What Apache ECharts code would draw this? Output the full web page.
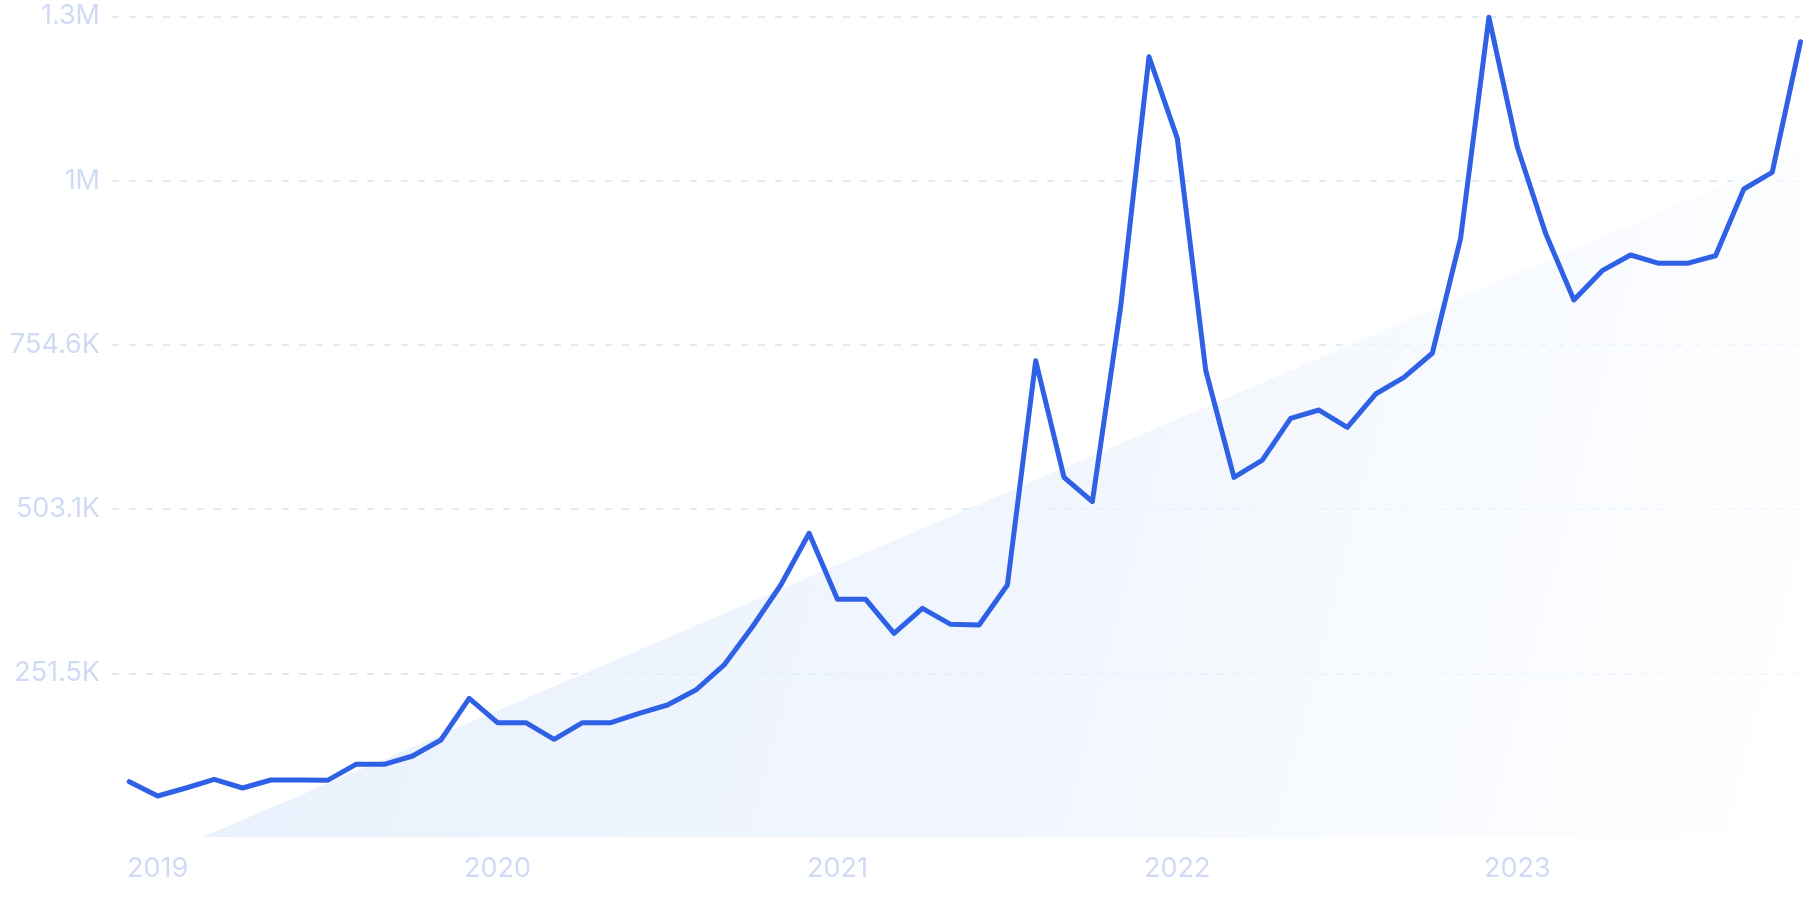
<!DOCTYPE html>
<html>
<head>
<meta charset="utf-8">
<script src="https://cdn.jsdelivr.net/npm/echarts@6/dist/echarts.min.js"></script>
<style>
html,body{margin:0;padding:0;background:#fff;}
#chart{width:1807px;height:903px;}
</style>
</head>
<body>
<div id="chart"></div>
<script>
// Monthly categories (Dec 2018 – Nov 2023)
const months = [
  '2018-12',
  '2019-01','2019-02','2019-03','2019-04','2019-05','2019-06','2019-07','2019-08','2019-09','2019-10','2019-11','2019-12',
  '2020-01','2020-02','2020-03','2020-04','2020-05','2020-06','2020-07','2020-08','2020-09','2020-10','2020-11','2020-12',
  '2021-01','2021-02','2021-03','2021-04','2021-05','2021-06','2021-07','2021-08','2021-09','2021-10','2021-11','2021-12',
  '2022-01','2022-02','2022-03','2022-04','2022-05','2022-06','2022-07','2022-08','2022-09','2022-10','2022-11','2022-12',
  '2023-01','2023-02','2023-03','2023-04','2023-05','2023-06','2023-07','2023-08','2023-09','2023-10','2023-11'
];
// Search volume, one value per month
const volume = [
  85500,
  63600, 75800, 89100, 75800, 88100, 88100, 87600, 112100, 112100, 124800, 149300, 213200,
  175800, 175800, 150400, 175800, 175800, 190200, 202900, 225900, 264200, 322800, 386700, 465900,
  364800, 364800, 312700, 351000, 326500, 325400, 386700, 730200, 551600, 514300, 812900, 1195800,
  1070800, 716000, 551600, 578100, 642000, 654700, 628200, 679200, 704800, 741600, 917700, 1256100,
  1058000, 925300, 823200, 868100, 892100, 879400, 879400, 891000, 993200, 1018700, 1218800
];
// Trend line end points: [month index, value]
const trendStart = [0, -47560];
const trendEnd = [59, 1050300];
// Axis ticks
const yInterval = 251540;
const yMax = 1257700;
const yTickLabels = ['', '251.5K', '503.1K', '754.6K', '1M', '1.3M'];
const yearTickIdx = [1, 13, 25, 37, 49];
const yearLabels = ['2019', '2020', '2021', '2022', '2023'];

const chart = echarts.init(document.getElementById('chart'), null, {renderer: 'canvas'});
const labelColor = '#d0daf4';
chart.setOption({
  animation: false,
  backgroundColor: '#ffffff',
  grid: {left: 112, right: 6.5, top: 16.3, bottom: 65.5},
  xAxis: {
    type: 'value',
    min: -0.61,
    max: 59,
    axisLine: {show: false},
    axisTick: {show: false},
    splitLine: {show: false},
    axisLabel: {
      customValues: yearTickIdx,
      formatter: function (v) { return yearLabels[yearTickIdx.indexOf(Math.round(v))] || ''; },
      color: labelColor,
      fontFamily: 'Inter',
      fontWeight: 400,
      fontSize: 27,
      margin: 18
    }
  },
  yAxis: {
    type: 'value',
    min: 0,
    max: yMax,
    interval: yInterval,
    axisLine: {show: false},
    axisTick: {show: false},
    axisLabel: {
      formatter: function (v) { return yTickLabels[Math.round(v / yInterval)]; },
      color: labelColor,
      fontFamily: 'Inter',
      fontWeight: 400,
      fontSize: 27,
      margin: 12
    },
    splitLine: {
      show: true,
      showMinLine: false,
      lineStyle: {color: '#cfe6f7', width: 1.6, type: [7, 10]}
    }
  },
  series: [
    {
      type: 'line',
      data: [trendStart, trendEnd],
      symbol: 'none',
      silent: true,
      lineStyle: {width: 0},
      areaStyle: {
        origin: 'start',
        color: new echarts.graphic.LinearGradient(0, 0.4, 1, 1, [
          {offset: 0, color: '#deeafb'},
          {offset: 0.55, color: '#ecf3fd'},
          {offset: 1, color: '#ffffff'}
        ])
      },
      z: 1
    },
    {
      type: 'line',
      data: volume.map(function (v, i) { return [i, v]; }),
      symbol: 'none',
      clip: false,
      lineStyle: {color: '#2f61e6', width: 5, join: 'round', cap: 'round'},
      z: 3
    }
  ]
});
</script>
</body>
</html>
